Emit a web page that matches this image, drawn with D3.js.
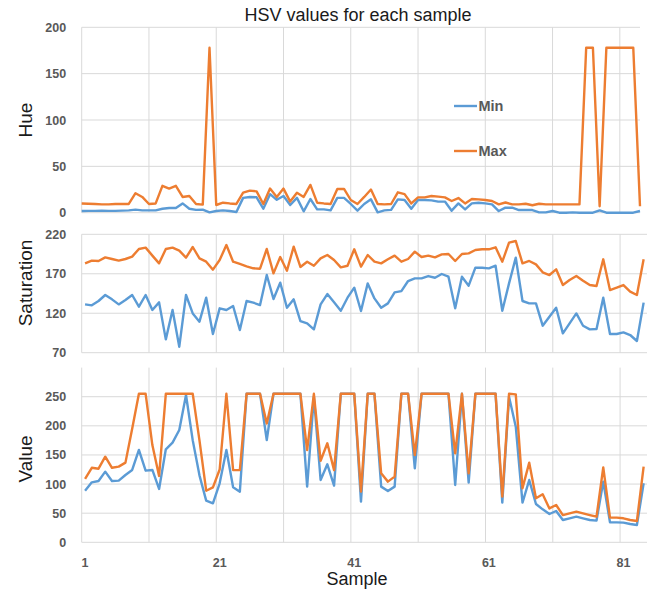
<!DOCTYPE html>
<html>
<head>
<meta charset="utf-8">
<script src="https://cdn.jsdelivr.net/npm/d3@7/dist/d3.min.js"></script>
<style>
  body { margin: 0; background: #fff; }
  svg { display: block; font-family: "Liberation Sans", Arial, sans-serif; }
</style>
</head>
<body>
<svg id="chart" width="659" height="592"></svg>
<script>
// HSV min / max per sample
const hueMin = [1.8, 2, 2, 2.2, 2, 2, 2.2, 2.5, 3.3, 2.5, 2.5, 2.5, 4.3, 5, 5, 10, 4.3, 3, 3.3, 0.4,
  1.8, 2.5, 1.8, 0.8, 16, 17, 16.6, 4.3, 20, 14, 18, 8.3, 16, 1.5, 14.8, 3.6, 3.6, 2.5, 16, 16,
  9.4, 2.2, 9.4, 14.4, 0.4, 2.5, 3, 14.4, 13.7, 4.3, 13.7, 13.7, 13.3, 12, 12, 2.2, 10, 3.5, 10, 10.8,
  10, 9, 1.8, 5.4, 5.4, 2.9, 2.9, 2.9, 0.4, 0.4, 1.8, 0, 0, 0.4, 0, 0, 0, 2.5, 0, 0,
  0, 0, 0, 1.8];
const hueMax = [10, 9.7, 9.4, 9, 9, 9.4, 9.4, 9.4, 21, 17, 9.4, 10, 29, 26, 29, 17, 18, 9.4, 8.7, 178,
  8.3, 10.8, 10, 9.4, 21.6, 23.8, 23, 9.4, 26, 17, 26, 12, 21.6, 17, 30, 10.8, 10, 9.4, 25.6, 25.6,
  13.7, 9.4, 17, 25, 9.4, 9, 9.4, 22, 20, 10, 16.5, 16.5, 18, 17.3, 16.5, 12.6, 15.8, 10, 14.8, 14.4,
  13.7, 12.6, 9, 11, 9, 9, 9.7, 8, 9.7, 9, 9, 9, 9, 9, 9, 178, 178, 7, 178, 178,
  178, 178, 178, 7];

const satMin = [131.2, 130, 135.5, 143.1, 137.6, 131.2, 136.7, 143.1, 128.3, 143.1,
  124.1, 133.8, 86.9, 124.1, 77.6, 143.1, 119.8, 109.3, 139.7, 93.7,
  126.2, 124.1, 129.1, 98.7, 135.5, 133.4, 130.4, 168.4, 138, 158.7,
  127, 137.6, 110.1, 107.2, 99.6, 131.2, 144.3, 133.8, 123.2, 139.7,
  152.4, 122.8, 157.8, 138.8, 127, 132.5, 146.4, 148.1, 160.8, 164.2,
  164.2, 167.1, 165, 169.7, 166.3, 126.2, 166.3, 154.9, 177.7, 177.7,
  176.9, 180.2, 123.2, 157.8, 190.4, 135.5, 132.5, 132.5, 104.2, 115.6,
  127, 94.5, 107.2, 119.8, 104.2, 99.6, 100, 139.7, 93.7, 93.7,
  95.8, 92.4, 84.8, 133.4];
const satMax = [183.2, 186.6, 186.2, 190.8, 188.7, 186.6, 188.7, 191.7, 201.4, 203.1,
  193, 183.2, 201.4, 203.1, 199.3, 190.4, 203.9, 189.5, 185.3, 175.2,
  187.4, 206.4, 185.3, 182.4, 179.4, 176.9, 176.4, 201.4, 170.5, 191.2,
  173.9, 204.3, 178.6, 185.3, 180.2, 189.5, 193.8, 187.4, 178.1, 180.2,
  201, 179, 193.8, 185.3, 183.2, 188.3, 193, 185.3, 188.7, 198,
  191.2, 193, 190.8, 194.6, 195, 186.2, 195, 195.9, 200.1, 201,
  201, 203.5, 185.3, 209.4, 211.5, 183.2, 186.2, 181.9, 171.8, 168.4,
  175.6, 155.7, 162.1, 167.2, 161.2, 155.7, 154.5, 188.3, 149.3, 152.3,
  155.7, 147.3, 143.1, 188.3];

const valMin = [88.7, 103, 105.3, 121.3, 105.3, 105.9, 115.6, 124.2, 158.6, 123,
  124.2, 91.6, 159.7, 171.1, 192.9, 253, 175, 115, 71.5, 67,
  101.3, 158.6, 94.4, 87, 255, 255, 255, 175.7, 255, 255,
  255, 255, 255, 95.6, 250, 107, 134, 97.3, 255, 255,
  255, 69.8, 255, 255, 95.6, 88.1, 95.6, 255, 255, 127,
  255, 255, 255, 255, 255, 98.4, 255, 102.5, 255, 255,
  255, 255, 68.1, 250, 198.6, 68.1, 107, 65.8, 56.6, 48.6,
  53.8, 38.3, 41.2, 44, 41.2, 38.3, 37.2, 104.2, 34.3, 34.3,
  33.7, 31.4, 29.7, 101.3];
const valMax = [109, 128, 126.4, 147, 128, 130, 136.8, 195, 255, 255,
  167, 114, 255, 255, 255, 255, 255, 175, 88.6, 94.4,
  125, 255, 124, 124, 255, 255, 255, 204, 255, 255,
  255, 255, 255, 158.5, 255, 140, 170, 124, 255, 255,
  255, 87, 255, 255, 118.4, 104.2, 112.8, 255, 255, 149.8,
  255, 255, 255, 255, 255, 152.8, 255, 118.4, 255, 255,
  255, 255, 78.4, 255, 254, 92.7, 136.8, 75.5, 82.4, 58.2,
  64, 46.8, 49.7, 52.6, 49.7, 46.8, 44, 128.6, 42.3, 42.3,
  41.2, 38.3, 36.6, 129.8];

const hueTicks = [0, 50, 100, 150, 200];
const satTicks = [70, 120, 170, 220];
const valTicks = [0, 50, 100, 150, 200, 250];
const sampleLabels = [1, 21, 41, 61, 81];
const gridSamples = [1, 11, 21, 31, 41, 51, 61, 71, 81];
const seriesNames = ['Min', 'Max'];

const samples = d3.range(1, hueMin.length + 1);
const colors = { Min: '#5B9BD5', Max: '#ED7D31' };
const gridColor = '#d9d9d9';
const labelColor = '#595959';
const tickFont = '12.5px';

const svg = d3.select('#chart');

// x scales: hue panel plots points on the tick marks, the other two between them
const left = 81.7;
const xHue = d3.scalePoint().domain(samples).range([left, 640]);
const xBand = d3.scaleBand().domain(samples).range([left, 647]);
const xMid = s => xBand(s) + xBand.bandwidth() / 2;

const panels = [
  { name: 'Hue', min: hueMin, max: hueMax, ticks: hueTicks, domain: [0, 200], range: [212.7, 27.3],
    x: s => xHue(s), gridX: s => xHue(s), right: 640, titleY: 120 },
  { name: 'Saturation', min: satMin, max: satMax, ticks: satTicks, domain: [70, 220], range: [352.7, 234.3],
    x: xMid, gridX: s => xBand(s), right: 647, titleY: 283 },
  { name: 'Value', min: valMin, max: valMax, ticks: valTicks, domain: [0, 300], range: [542.3, 367.6],
    x: xMid, gridX: s => xBand(s), right: 647, titleY: 459 }
];

panels.forEach(p => {
  const y = d3.scaleLinear().domain(p.domain).range(p.range);
  const g = svg.append('g');

  // vertical gridlines
  g.selectAll('.vgrid')
    .data(gridSamples)
    .enter()
    .append('line')
    .attr('x1', d => p.gridX(d)).attr('x2', d => p.gridX(d))
    .attr('y1', p.range[1]).attr('y2', p.range[0])
    .attr('stroke', gridColor).attr('stroke-width', 1);

  // horizontal gridlines
  g.selectAll('.hgrid')
    .data(p.ticks)
    .enter()
    .append('line')
    .attr('x1', left).attr('x2', p.right)
    .attr('y1', d => y(d)).attr('y2', d => y(d))
    .attr('stroke', gridColor).attr('stroke-width', 1);

  // y axis labels
  const yAxis = g.append('g')
    .attr('transform', `translate(${left},0)`)
    .call(d3.axisLeft(y).tickValues(p.ticks).tickSize(0).tickPadding(15.5));
  yAxis.select('.domain').remove();
  yAxis.selectAll('text')
    .attr('fill', labelColor)
    .style('font-size', tickFont)
    .style('font-weight', 'bold')
    .style('font-family', '"Liberation Sans", Arial, sans-serif');

  // axis title
  g.append('text')
    .attr('transform', `translate(32,${p.titleY}) rotate(-90)`)
    .attr('text-anchor', 'middle')
    .attr('fill', '#1a1a1a')
    .style('font-size', '19px')
    .text(p.name);

  // lines
  const line = d3.line().x(d => p.x(d.s)).y(d => y(d.v));
  [['Min', p.min], ['Max', p.max]].forEach(([key, vals]) => {
    g.append('path')
      .datum(vals.map((v, i) => ({ s: samples[i], v })))
      .attr('fill', 'none')
      .attr('stroke', colors[key])
      .attr('stroke-width', 2.4)
      .attr('stroke-linejoin', 'round')
      .attr('d', line);
  });
});

// x axis labels under the value panel
const xAxis = svg.append('g')
  .attr('transform', 'translate(0,542.3)')
  .call(d3.axisBottom(xBand).tickValues(sampleLabels).tickSize(0).tickPadding(15.5));
xAxis.select('.domain').remove();
xAxis.selectAll('text')
  .attr('fill', labelColor)
  .style('font-size', tickFont)
  .style('font-weight', 'bold')
  .style('font-family', '"Liberation Sans", Arial, sans-serif');

svg.append('text')
  .attr('x', 357)
  .attr('y', 585)
  .attr('text-anchor', 'middle')
  .attr('fill', '#1a1a1a')
  .style('font-size', '18px')
  .text('Sample');

// chart title
svg.append('text')
  .attr('x', 358)
  .attr('y', 20.5)
  .attr('text-anchor', 'middle')
  .attr('fill', '#1a1a1a')
  .style('font-size', '18px')
  .text('HSV values for each sample');

// legend inside the hue panel
const legend = svg.append('g').attr('transform', 'translate(454,106)');
legend.selectAll('g')
  .data(seriesNames)
  .enter()
  .append('g')
  .attr('transform', (d, i) => `translate(0,${i * 45})`)
  .each(function (d) {
    const item = d3.select(this);
    item.append('line')
      .attr('x1', 0).attr('x2', 23)
      .attr('stroke', colors[d]).attr('stroke-width', 2.4);
    item.append('text')
      .attr('x', 24.5)
      .attr('dy', '0.36em')
      .attr('fill', labelColor)
      .style('font-size', '14.5px')
      .style('font-weight', 'bold')
      .text(d);
  });
</script>
</body>
</html>
